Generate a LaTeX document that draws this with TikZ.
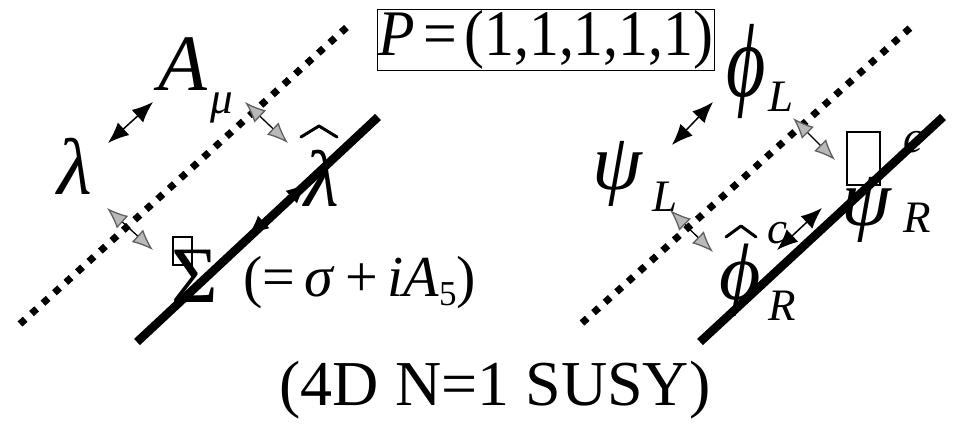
\documentclass[tikz,border=0pt]{standalone}
\usepackage{fontspec}
\setmainfont{Liberation Serif}
\usetikzlibrary{arrows.meta}
\begin{document}
\begin{tikzpicture}[x=1pt,y=-1pt,
  dotline/.style={line width=7pt,dash pattern=on 7pt off 8.5pt},
  brane/.style={line width=8.5pt},
  blk/.style={line width=1.5pt,{Latex[length=21pt,width=17pt]}-{Latex[length=21pt,width=17pt]}},
  gry/.style={line width=1.3pt,{Latex[length=21pt,width=17pt,fill=gray!55,color=gray!75!black]}-{Latex[length=21pt,width=17pt,fill=gray!55,color=gray!75!black]}},
  big/.style={inner sep=0pt,font=\fontsize{80}{80}\selectfont\itshape},
  sub/.style={inner sep=0pt,font=\fontsize{45}{45}\selectfont\itshape},
  hatline/.style={line width=3pt,line join=round,line cap=round},
  glyphbox/.style={draw,line width=1.2pt}]
\useasboundingbox (0,0) rectangle (954,429);
\coordinate (d1a) at (20,324); \coordinate (d1b) at (347,27);
\coordinate (s1a) at (137,342); \coordinate (s1b) at (378,117);
\coordinate (d2a) at (582,323); \coordinate (d2b) at (910,28);
\coordinate (s2a) at (700,342); \coordinate (s2b) at (943,117);
% left labels
\node[big] (lam) at (75,166) {λ};
\node[big] (A) at (183,64) {A};
\node[sub] (mu) at (222,108) {μ};
\node[big] (lamh) at (322,178) {λ};
\draw[hatline] (301,137) -- (319,126) -- (337,137);
\node[inner sep=0pt,font=\fontsize{80}{80}\selectfont] (sig) at (195,276) {Σ};
\node[glyphbox,minimum width=19pt,minimum height=28pt,inner sep=0pt] (sbox) at (182.5,251) {};
\node[inner sep=0pt,anchor=west,font=\fontsize{58}{58}\selectfont] (eq) at (243,283) {(=\,\textit{σ}\,+\,\textit{iA}\raisebox{-9pt}{\fontsize{35}{35}\selectfont 5})};
% P box
\node[draw,line width=1.6pt,inner sep=1pt,font=\fontsize{65}{65}\selectfont] (P) at (546,40) {\scalebox{0.92}[1]{\textit{P}\hspace{9pt}=\hspace{8pt}(1,1,1,1,1)}};
% title
\node[inner sep=0pt,font=\fontsize{64}{64}\selectfont] (title) at (495,390) {(4D N=1 SUSY)};
% right labels
\node[big] (phiL) at (746,71) {\scalebox{0.95}[1.3]{ϕ}};
\node[sub] (phiLs) at (781,97) {L};
\node[big] (psiL) at (617,174) {ψ};
\node[sub] (psiLs) at (665,197) {L};
\node[glyphbox,minimum width=33pt,minimum height=53pt,inner sep=0pt] (pbox) at (863.5,158.5) {};
\node[big] (psiR) at (866,210) {ψ};
\node[sub] (psiRs) at (917,218) {R};
\node[sub] (psiRc) at (913,142) {c};
\node[big] (phiR) at (740,280) {ϕ};
\node[sub] (phiRs) at (782,306) {R};
\node[sub] (phiRc) at (777,233) {c};
\draw[hatline] (726,237) -- (741,226) -- (756,237);
% branes
\draw[dotline] (d1a) -- (d1b);
\draw[brane] (s1a) -- (s1b);
\draw[dotline] (d2a) -- (d2b);
\draw[brane] (s2a) -- (s2b);
% arrows
\coordinate (a1) at (108,143); \coordinate (a2) at (153,102);
\coordinate (b1) at (245,102); \coordinate (b2) at (288,143);
\coordinate (c1) at (107,208); \coordinate (c2) at (153,250);
\coordinate (e1) at (248,236); \coordinate (e2) at (307,183);
\coordinate (f1) at (672,145); \coordinate (f2) at (713,102);
\coordinate (g1) at (793,118); \coordinate (g2) at (835,160);
\coordinate (h1) at (670,210); \coordinate (h2) at (713,252);
\coordinate (k1) at (777,250); \coordinate (k2) at (822,208);
\draw[blk] (a1) -- (a2);
\draw[gry] (b1) -- (b2);
\draw[gry] (c1) -- (c2);
\draw[blk] (e1) -- (e2);
\draw[blk] (f1) -- (f2);
\draw[gry] (g1) -- (g2);
\draw[gry] (h1) -- (h2);
\draw[blk] (k1) -- (k2);
\end{tikzpicture}
\end{document}
